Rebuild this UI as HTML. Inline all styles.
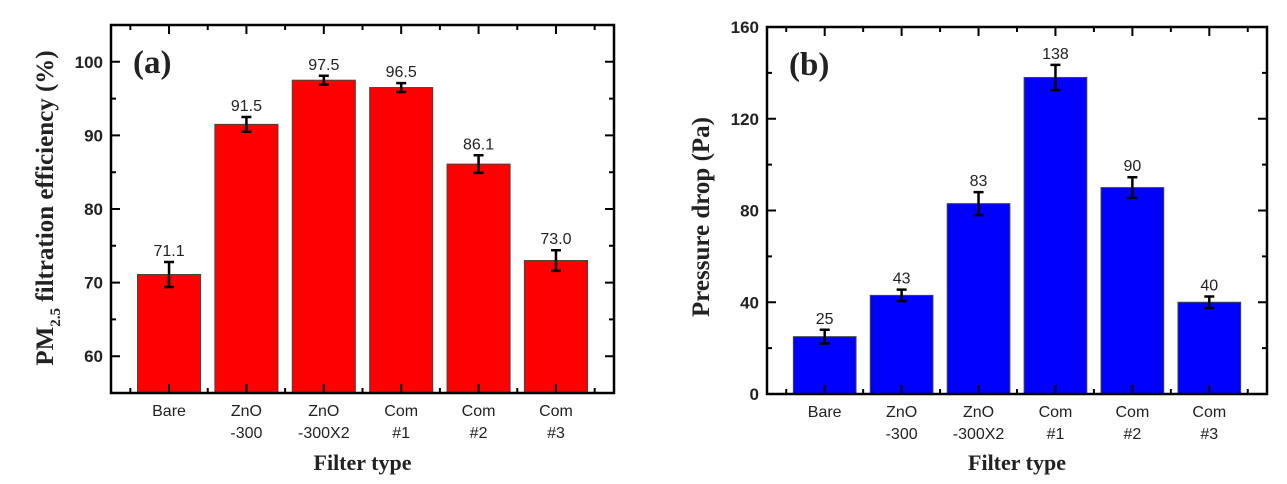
<!DOCTYPE html>
<html><head><meta charset="utf-8"><style>
html,body{margin:0;padding:0;background:#fff;}
svg{display:block;}
.tk{font-family:"Liberation Sans",Arial,sans-serif;font-size:16px;fill:#222;}
.tkb{font-family:"Liberation Sans",Arial,sans-serif;font-size:17px;font-weight:bold;fill:#222;}
.ttl{font-family:"Liberation Serif",serif;font-weight:bold;fill:#222;}
</style></head><body>
<svg id="chart" width="1287" height="484" viewBox="0 0 1287 484"></svg>
<script>
const categories = [["Bare"],["ZnO","-300"],["ZnO","-300X2"],["Com","#1"],["Com","#2"],["Com","#3"]];
const effValues = [71.1, 91.5, 97.5, 96.5, 86.1, 73.0];
const effErrors = [1.7, 1.0, 0.6, 0.6, 1.2, 1.4];
const effLabels = ["71.1","91.5","97.5","96.5","86.1","73.0"];
const effTicks = [60, 70, 80, 90, 100];
const pdValues = [25, 43, 83, 138, 90, 40];
const pdErrors = [3, 2.5, 5, 5.5, 4.5, 2.5];
const pdLabels = ["25","43","83","138","90","40"];
const pdTicks = [0, 40, 80, 120, 160];

const NS = "http://www.w3.org/2000/svg";
const svg = document.getElementById('chart');
function mk(tag, attrs, parent, text){
  const e = document.createElementNS(NS, tag);
  for (const k in attrs) e.setAttribute(k, attrs[k]);
  if (text !== undefined) e.textContent = text;
  (parent || svg).appendChild(e);
  return e;
}

function drawChart(o){
  const g = mk('g', {});
  
  
  const L=o.left, R=o.right, T=o.top, B=o.bottom;
  const n = o.values.length;
  const xs = i => L + (i + 0.75) * (R - L) / (n + 0.5);
  const step = (R - L) / (n + 0.5);
  const ys = v => B - (v - o.ymin) / (o.ymax - o.ymin) * (B - T);
  o.values.forEach((v, i) => {
    const w = step * 0.815;
    const b = mk('rect', {x: xs(i) - w/2, y: ys(v), width: w, height: B - ys(v), fill: o.color, stroke: '#444', 'stroke-width': 1}, g);
    
    
    const hi = ys(v + o.errors[i]), lo = ys(v - o.errors[i]);
    const eb = mk('path', {d: `M${xs(i)},${hi}V${lo}M${xs(i)-5},${hi}H${xs(i)+5}M${xs(i)-5},${lo}H${xs(i)+5}`, stroke: '#000', 'stroke-width': 2.5, fill: 'none'}, g);
    
    
    const t = mk('text', {x: xs(i), y: hi - 6, 'text-anchor': 'middle', class: 'tk'}, g, o.labels[i]);
    
    
    categories[i].forEach((line, j) => {
      const c = mk('text', {x: xs(i), y: B + 23 + j * 22, 'text-anchor': 'middle', class: 'tk'}, g, line);
      
      
    });
  });
  const f = mk('rect', {x: L, y: T, width: R - L, height: B - T, fill: 'none', stroke: '#000', 'stroke-width': 2.5}, g);
  
  
  let d = '';
  for (let i = 0; i < n; i++) {
    d += `M${xs(i)},${B}v-9M${xs(i)},${T}v9`;
    d += `M${xs(i)+step/2},${B}v-5M${xs(i)+step/2},${T}v5`;
  }
  d += `M${xs(0)-step/2},${B}v-5M${xs(0)-step/2},${T}v5`;
  o.ticks.forEach((tv) => {
    d += `M${L},${ys(tv)}h9M${R},${ys(tv)}h-9`;
    const tl = mk('text', {x: L - 8, y: ys(tv) + 6, 'text-anchor': 'end', class: 'tkb'}, g, String(tv));
    
    
    const mv = tv + (o.ticks[1] - o.ticks[0]) / 2;
    if (mv < o.ymax) d += `M${L},${ys(mv)}h5M${R},${ys(mv)}h-5`;
  });
  const mv0 = o.ticks[0] - (o.ticks[1] - o.ticks[0]) / 2;
  if (mv0 > o.ymin) d += `M${L},${ys(mv0)}h5M${R},${ys(mv0)}h-5`;
  const tp = mk('path', {d: d, stroke: '#000', 'stroke-width': 2, fill: 'none'}, g);
  
  
  const pl = mk('text', {x: L + 22, y: T + 48, class: 'ttl', 'font-size': 33}, g, o.panel);
  
  
  const xt = mk('text', {x: (L + R) / 2, y: 470, 'text-anchor': 'middle', class: 'ttl', 'font-size': 22}, g, 'Filter type');
  
  
  return g;
}

drawChart({name:'chart-a', left:111, right:614, top:25, bottom:393, ymin:55, ymax:105, values:effValues, errors:effErrors, labels:effLabels, ticks:effTicks, color:'#ff0000', panel:'(a)'});
drawChart({name:'chart-b', left:767, right:1267, top:27, bottom:394, ymin:0, ymax:160, values:pdValues, errors:pdErrors, labels:pdLabels, ticks:pdTicks, color:'#0000ff', panel:'(b)'});

const ya = mk('text', {transform: 'translate(53,208) rotate(-90)', 'text-anchor': 'middle', class: 'ttl', 'font-size': 25});


mk('tspan', {}, ya, 'PM');
mk('tspan', {'font-size': 15, dy: 7}, ya, '2.5');
mk('tspan', {dy: -7}, ya, ' filtration efficiency (%)');
const yb = mk('text', {transform: 'translate(709,217) rotate(-90)', 'text-anchor': 'middle', class: 'ttl', 'font-size': 25}, svg, 'Pressure drop (Pa)');


</script>
</body></html>
